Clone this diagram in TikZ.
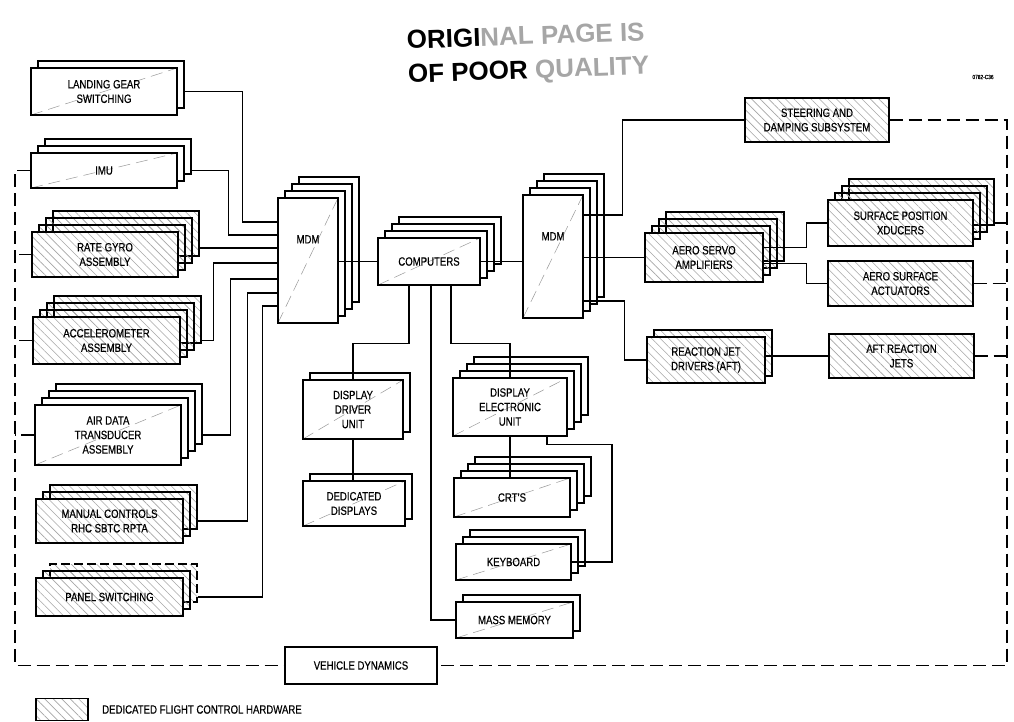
\documentclass[tikz,border=0pt]{standalone}
\usepackage{fontspec}
\setmainfont{Liberation Sans}[FakeStretch=0.8, FakeBold=0.4]
\newfontfamily\stampfont{Liberation Sans}
\usepackage{tikz}
\usetikzlibrary{positioning, shadows, patterns.meta, calc}

\newcommand{\boxfont}{\fontsize{12}{14.5}\selectfont}

\tikzstyle{block} = [rectangle, draw=black, line width=1.4pt, align=center, inner sep=2pt, font=\boxfont]
\tikzstyle{plainblock} = [fill=white, path picture={\draw[black!40, line width=0.5pt, dash pattern=on 12pt off 6pt] (path picture bounding box.south west) -- (path picture bounding box.north east);}]
\tikzstyle{hatchblock} = [preaction={fill=white}, pattern={Lines[angle=-45, distance=6pt, line width=0.6pt]}, pattern color=black!35]
\tikzstyle{stack1} = [copy shadow={shadow xshift=7pt, shadow yshift=7pt}]
\tikzstyle{stack2} = [copy shadow={shadow xshift=14pt, shadow yshift=14pt}, copy shadow={shadow xshift=7pt, shadow yshift=7pt}]
\tikzstyle{stack2dash} = [copy shadow={shadow xshift=14pt, shadow yshift=14pt, dash pattern=on 9pt off 4pt}, copy shadow={shadow xshift=7pt, shadow yshift=7pt}]
\tikzstyle{stack3} = [copy shadow={shadow xshift=21pt, shadow yshift=21pt}, copy shadow={shadow xshift=14pt, shadow yshift=14pt}, copy shadow={shadow xshift=7pt, shadow yshift=7pt}]
\tikzstyle{wire} = [line width=1.2pt]
\tikzstyle{loopwire} = [line width=1.3pt, dash pattern=on 13pt off 6pt]

\begin{document}
\begin{tikzpicture}[x=1pt, y=-1pt]
\useasboundingbox (0,0) rectangle (1014,722);

% stamp and drawing number
\node (stamp) [font=\stampfont\bfseries\fontsize{26}{34}\selectfont, align=left, rotate=2, inner sep=0pt] at (528,55)
  {ORIGI{\color{black!35}NAL PAGE IS}\\OF POOR {\color{black!35}QUALITY}};
\node (dwgno) [font=\fontsize{6}{7}\selectfont] at (983,77) {0782-C36};

% sensors and switches
\node (lgs) [block, stack1, plainblock, minimum width=146pt, minimum height=47pt] at (104,91.5) {LANDING GEAR\\SWITCHING};
\node (imu) [block, stack2, plainblock, minimum width=146pt, minimum height=35pt] at (104,170.5) {IMU};
\node (rga) [block, stack3, hatchblock, minimum width=146pt, minimum height=45pt] at (105,254.5) {RATE GYRO\\ASSEMBLY};
\node (acc) [block, stack3, hatchblock, minimum width=147pt, minimum height=47pt] at (106.5,340.5) {ACCELEROMETER\\ASSEMBLY};
\node (adt) [block, stack3, plainblock, minimum width=146pt, minimum height=60pt] at (108,435) {AIR DATA\\TRANSDUCER\\ASSEMBLY};
\node (man) [block, stack2, hatchblock, minimum width=147pt, minimum height=44pt] at (109.5,521) {MANUAL CONTROLS\\RHC SBTC RPTA};
\node (pan) [block, stack2dash, hatchblock, minimum width=147pt, minimum height=38pt] at (109.5,597) {PANEL SWITCHING};

% data bus
\node (mdml) [block, stack3, plainblock, minimum width=60pt, minimum height=125pt,
  label={[anchor=center, yshift=-42pt, font=\boxfont]north:MDM}] at (308,260.5) {};
\node (comp) [block, stack3, plainblock, minimum width=102pt, minimum height=47pt] at (429,261.5) {COMPUTERS};
\node (mdmr) [block, stack3, plainblock, minimum width=60pt, minimum height=123pt,
  label={[anchor=center, yshift=-42pt, font=\boxfont]north:MDM}] at (553,256.5) {};

% effectors
\node (sds) [block, hatchblock, minimum width=144pt, minimum height=44pt] at (817,120) {STEERING AND\\DAMPING SUBSYSTEM};
\node (asa) [block, stack3, hatchblock, minimum width=118pt, minimum height=49pt] at (704,257.5) {AERO SERVO\\AMPLIFIERS};
\node (spx) [block, stack3, hatchblock, minimum width=145pt, minimum height=46pt] at (900.5,223) {SURFACE POSITION\\XDUCERS};
\node (act) [block, hatchblock, minimum width=145pt, minimum height=45pt] at (900.5,283.5) {AERO SURFACE\\ACTUATORS};
\node (rjd) [block, stack1, hatchblock, minimum width=118pt, minimum height=46pt] at (706,360) {REACTION JET\\DRIVERS (AFT)};
\node (arj) [block, hatchblock, minimum width=145pt, minimum height=44pt] at (901.5,356) {AFT REACTION\\JETS};

% displays and controls
\node (ddu) [block, stack1, plainblock, minimum width=100pt, minimum height=59pt] at (353,409.5) {DISPLAY\\DRIVER\\UNIT};
\node (ded) [block, stack1, plainblock, minimum width=102pt, minimum height=45pt] at (354,503.5) {DEDICATED\\DISPLAYS};
\node (deu) [block, stack3, plainblock, minimum width=114pt, minimum height=58pt] at (510,407) {DISPLAY\\ELECTRONIC\\UNIT};
\node (crt) [block, stack3, plainblock, minimum width=116pt, minimum height=39pt] at (512,497.5) {CRT'S};
\node (kbd) [block, stack2, plainblock, minimum width=115pt, minimum height=36pt] at (513.5,562) {KEYBOARD};
\node (mm) [block, stack1, plainblock, minimum width=117pt, minimum height=36pt] at (514.5,620) {MASS MEMORY};

\node (vd) [block, fill=white, minimum width=152pt, minimum height=37pt] at (361,665.5) {VEHICLE DYNAMICS};

% legend
\node (legend) [block, hatchblock, minimum width=52pt, minimum height=22pt] at (62,709.5) {};
\node (legendtext) [right=10pt of legend, font=\boxfont] {DEDICATED FLIGHT CONTROL HARDWARE};

% into the left MDM
\draw [wire] ([xshift=7pt]lgs.east) -- ++(58,0) |- ([yshift=38.5pt]mdml.west);
\draw [wire] ([xshift=14pt]imu.east) -- ++(37,0) |- ([yshift=25.5pt]mdml.west);
\draw [wire] ([xshift=21pt, yshift=6.5pt]rga.east) -- ([yshift=12.5pt]mdml.west);
\draw [wire] ([xshift=21pt]acc.east) -- ++(12,0) |- ([yshift=-2.5pt]mdml.west);
\draw [wire] ([xshift=21pt]adt.east) -- ++(28,0) |- ([yshift=-18.5pt]mdml.west);
\draw [wire] ([xshift=14pt]man.east) -- ++(50,0) |- ([yshift=-32.5pt]mdml.west);
\draw [wire] ([xshift=14pt]pan.east) -- ++(65,0) |- ([yshift=-45.5pt]mdml.west);

% computers
\draw [wire] (comp.west -| mdml.east) -- (comp.west);
\draw [wire] (comp.east) -- (comp.east -| mdmr.west);
\draw [wire] ([xshift=-20pt]comp.south) -- ++(0,58) -| (ddu.north);
\draw [wire] ([xshift=22pt]comp.south) -- ++(0,58) -| (deu.north);
\draw [wire] ([xshift=2pt]comp.south) |- (mm.west);
\draw [wire] (ddu.south) -- (ddu.south |- ded.north);
\draw [wire] (deu.south) -- (deu.south |- crt.north);
\draw [wire] ([xshift=37pt]deu.south) -- ++(0,8) -- ++(65,0) |- (kbd.east);

% out of the right MDM
\draw [wire] ([yshift=41.5pt]mdmr.east) -- ++(39,0) |- (sds.west);
\draw [wire] (asa.west -| mdmr.east) -- (asa.west);
\draw [wire] ([yshift=-44.5pt]mdmr.east) -- ++(41,0) |- (rjd.west);
\draw [wire] ([yshift=10pt]asa.east) -- ++(43,0) |- (spx.west);
\draw [wire] ([yshift=-6pt]asa.east) -- ++(43,0) |- (act.west);
\draw [wire] (arj.west -| rjd.east) -- (arj.west);

% vehicle dynamics loop
\coordinate (rbus) at (1007,665.5);
\coordinate (lbus) at (15,665.5);
\draw [loopwire] (sds.east) -| (rbus) -- (vd.east);
\draw [loopwire] ([xshift=20pt]spx.east) -- (spx.east -| rbus);
\draw [loopwire] (act.east) -- (act.east -| rbus);
\draw [loopwire] (arj.east) -- (arj.east -| rbus);
\draw [loopwire] (imu.west) -| (lbus) -- (vd.west);
\draw [loopwire] (rga.west) -- (rga.west -| lbus);
\draw [loopwire] (acc.west) -- (acc.west -| lbus);
\draw [loopwire] (adt.west) -- (adt.west -| lbus);
\end{tikzpicture}
\end{document}
